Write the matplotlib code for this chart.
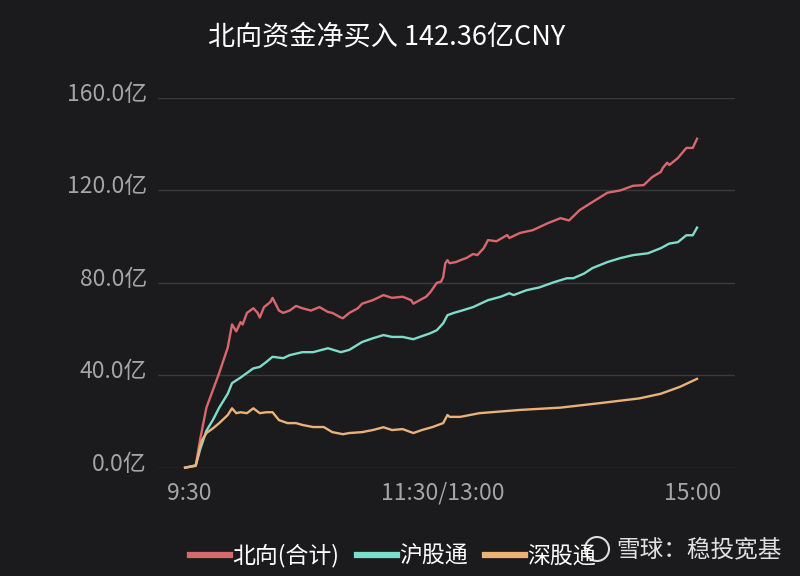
import matplotlib
matplotlib.use("Agg")
import matplotlib.pyplot as plt
import matplotlib.transforms as mtransforms
from matplotlib.lines import Line2D
from matplotlib.patches import Ellipse

plt.rcParams['font.family'] = ['Noto Sans CJK SC', 'DejaVu Sans']

title = "北向资金净买入 142.36亿CNY"
series_names = ["北向(合计)", "沪股通", "深股通"]
tick_pos = [2, 121, 238]
tick_labels = ["9:30", "11:30/13:00", "15:00"]
y_ticks = [0, 40, 80, 120, 160]
y_labels = ["0.0亿", "40.0亿", "80.0亿", "120.0亿", "160.0亿"]

red_t = [0, 5, 7, 10, 13, 16, 20, 22, 24, 26, 27, 29, 32, 34, 35, 37, 40, 41, 44, 46,
         49, 52, 55, 59, 63, 67, 69, 73, 74, 77, 81, 83, 88, 93, 97, 102, 106, 107, 110,
         113, 115, 118, 120, 121, 122, 123, 124, 127, 129, 132, 135, 137, 140, 142, 146,
         151, 152, 157, 163, 170, 176, 180, 185, 191, 198, 204, 210, 215, 219, 223, 224,
         226, 227, 231, 235, 238, 240]
red_v = [0, 1, 12, 26, 33.5, 41, 52, 62, 59, 63, 62, 67, 69, 67, 65, 69.5, 71.7, 73.5, 68, 67,
         68, 70, 69, 68, 69.5, 67.4, 67, 65, 64.7, 67, 69, 71, 72.5, 74.7, 73.5, 74, 72.5, 71, 72.5,
         74, 76, 80, 80.5, 82.5, 88.5, 89.8, 88.5, 89, 89.8, 90.8, 92.5, 92, 95, 98.5, 98,
         100.7, 99.4, 101.6, 102.8, 105.8, 108, 107, 111.5, 115, 119, 120, 122, 122.3, 125.8, 128, 129.8,
         132, 131, 134, 138.4, 138.4, 142.36]

teal_t = [0, 5, 7, 10, 13, 16, 20, 22, 26, 29, 32, 35, 38, 41, 46, 49, 55, 60, 67, 73, 77,
          83, 88, 93, 97, 102, 107, 110, 115, 118, 121, 123, 126, 129, 135, 142, 148, 152,
          154, 160, 166, 173, 179, 182, 187, 191, 198, 204, 210, 217, 223, 227, 231, 235,
          238, 240]
teal_v = [0, 1, 7.7, 16, 20.6, 26, 32, 36.6, 39, 41, 43, 43.6, 45.7, 48, 47.4, 48.7, 50, 50,
          51.7, 50, 51, 54.4, 56, 57.4, 56.6, 56.6, 55.6, 56.6, 58.2, 59.5, 62.5, 66, 67, 67.8,
          69.5, 72.5, 74, 75.5, 74.7, 76.8, 78, 80.3, 82, 82, 84, 86.4, 89, 90.7, 92, 92.8, 95,
          97, 97.6, 100.6, 100.6, 103.9]

orange_t = [0, 5, 7, 8, 10, 13, 16, 20, 22, 24, 26, 29, 32, 35, 38, 41, 44, 48, 52, 55, 60,
            65, 69, 74, 77, 83, 88, 93, 97, 102, 107, 111, 116, 121, 123, 124, 129, 138, 157,
            176, 195, 213, 223, 232, 240]
orange_v = [0, 0.8, 9, 12, 15, 17, 19.3, 22.8, 25.7, 23.6, 24, 23.6, 25.7, 23.6, 24, 24, 20.6,
            19.3, 19.3, 18.5, 17.6, 17.6, 15.4, 14.5, 15, 15.4, 16.3, 17.5, 16.3, 16.7, 15, 16.3,
            17.6, 19.3, 22.8, 22, 22, 23.6, 25, 26, 28, 30, 32, 35, 38.46]

bg = "#1b1b1d"
colors = ["#d9676f", "#7fdccb", "#e8b27a"]

fig = plt.figure(figsize=(8, 5.76), dpi=100, facecolor=bg)
ax = fig.add_axes([158/800, 1-467.7/576, (735-158)/800, (467.7-98)/576])
ax.set_facecolor(bg)

for t, v, c in zip([red_t, teal_t, orange_t], [red_v, teal_v, orange_v], colors):
    ax.plot(t, v, color=c, lw=1.7, clip_on=False, solid_joinstyle='round')

ax.set_xlim(-12.7, 257.8)
ax.set_ylim(0, 160)
ax.set_yticks(y_ticks)
ax.set_yticklabels(y_labels)
ax.set_xticks(tick_pos)
ax.set_xticklabels(tick_labels)
ax.grid(axis='y', color='#3a3a3c', lw=1)
ax.set_axisbelow(True)
for s in ax.spines.values():
    s.set_visible(False)
ax.tick_params(axis='both', length=0, colors='#a5a5a8')
ax.tick_params(axis='y', pad=8, labelsize=16.5)
ax.tick_params(axis='x', pad=10, labelsize=16.5)
offset = mtransforms.ScaledTranslation(0, 6/100, fig.dpi_scale_trans)
for lab in ax.get_yticklabels():
    lab.set_transform(lab.get_transform() + offset)

fig.text(387/800, 1-37/576, title, color='white', fontsize=19.5, ha='center', va='center')

handles = [Line2D([0], [0], color=c, lw=4.5) for c in colors]
fig.legend(handles, series_names, loc='center left', bbox_to_anchor=(174/800, 1-556/576),
           ncol=3, frameon=False, fontsize=16.5, labelcolor='white', handlelength=1.75,
           handletextpad=0.1, columnspacing=0.75, borderpad=0.2)

fig.add_artist(Ellipse((597/800, 1-549/576), width=24/800, height=24/576,
                       transform=fig.transFigure, fill=False, ec='#dddddd', lw=1.5))
fig.text(616/800, 1-551/576, "雪球：稳投宽基", color='#e0e0e0', fontsize=17, ha='left', va='center')

fig.savefig("out.png", dpi=100, facecolor=bg)
